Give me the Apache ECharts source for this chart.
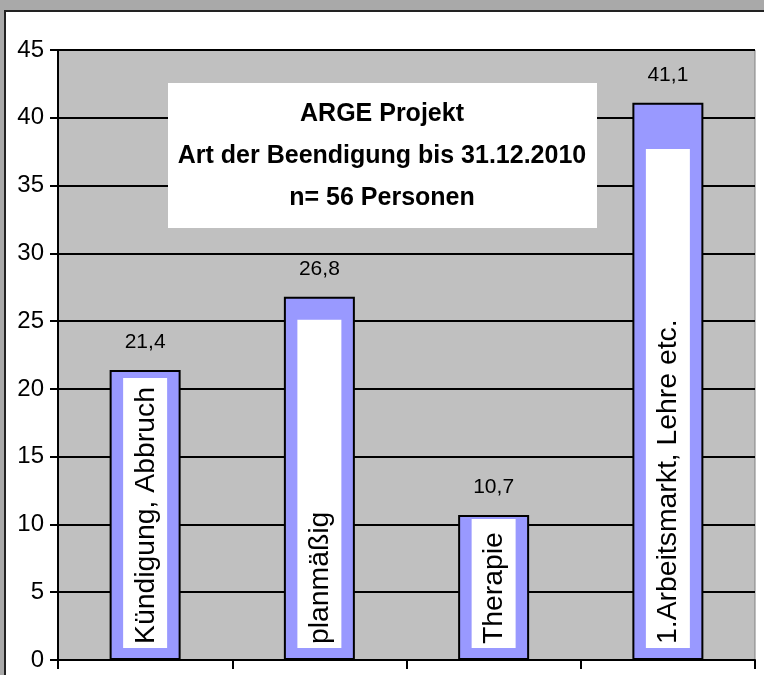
<!DOCTYPE html>
<html>
<head>
<meta charset="utf-8">
<script src="https://cdn.jsdelivr.net/npm/echarts@6/dist/echarts.min.js"></script>
<style>
  html, body { margin: 0; padding: 0; background: #fff; }
  #chart { width: 764px; height: 675px; }
</style>
</head>
<body>
<div id="chart"></div>
<script>
  // Werte aus dem Diagramm (Prozent)
  const categories = ['Kündigung, Abbruch', 'planmäßig', 'Therapie', '1.Arbeitsmarkt, Lehre etc.'];
  const values = [21.4, 26.8, 10.7, 41.1];
  // Oberkante der weissen Beschriftungsfelder in den Balken
  const labelBoxTops = [20.8, 25.1, 10.4, 37.7];
  const yMin = 0;
  const yMax = 45;
  const yStep = 5;
  const titleLines = ['ARGE Projekt', 'Art der Beendigung bis 31.12.2010', 'n= 56 Personen'];

  const chart = echarts.init(document.getElementById('chart'));

  const option = {
    animation: false,
    graphic: [
      // Fensterrahmen oben / links
      { type: 'rect', z: 100, shape: { x: 0, y: 0, width: 764, height: 10 }, style: { fill: '#a9a9a9' } },
      { type: 'rect', z: 100, shape: { x: 0, y: 0, width: 4, height: 675 }, style: { fill: '#a9a9a9' } },
      { type: 'line', z: 100, shape: { x1: 4, y1: 11, x2: 764, y2: 11 }, style: { stroke: '#222', lineWidth: 2 } },
      { type: 'line', z: 100, shape: { x1: 5, y1: 10, x2: 5, y2: 675 }, style: { stroke: '#222', lineWidth: 2 } },
      // Titelkasten
      { type: 'rect', z: 100, shape: { x: 168, y: 83, width: 429, height: 145 }, style: { fill: '#fff' } },
      {
        type: 'text',
        z: 101,
        x: 382,
        y: 93,
        style: {
          text: titleLines.join('\n'),
          align: 'center',
          verticalAlign: 'top',
          lineHeight: 42,
          font: 'bold 25px "Liberation Sans", Arial, sans-serif',
          fill: '#000'
        }
      }
    ],
    grid: {
      left: 58,
      right: 9,
      top: 50,
      bottom: 15,
      show: true,
      backgroundColor: '#c0c0c0',
      borderColor: '#808080',
      borderWidth: 1
    },
    xAxis: {
      type: 'category',
      data: categories,
      axisLabel: { show: false },
      axisTick: { show: true, interval: 0, length: 9, lineStyle: { color: '#000', width: 2 } },
      axisLine: { lineStyle: { color: '#000', width: 2 } }
    },
    yAxis: {
      type: 'value',
      min: yMin,
      max: yMax,
      interval: yStep,
      axisLine: { show: true, lineStyle: { color: '#000', width: 2 } },
      axisTick: { show: true, length: 8, lineStyle: { color: '#000', width: 2 } },
      axisLabel: {
        color: '#000',
        fontSize: 24,
        margin: 14,
        fontFamily: '"Liberation Sans", Arial, sans-serif'
      },
      splitLine: { show: true, lineStyle: { color: '#000', width: 2 } }
    },
    series: [
      {
        type: 'bar',
        data: values,
        barWidth: 71,
        itemStyle: { color: '#9999ff', borderColor: '#000', borderWidth: 2 },
        label: {
          show: true,
          position: 'top',
          distance: 17,
          color: '#000',
          fontSize: 21,
          fontFamily: '"Liberation Sans", Arial, sans-serif',
          formatter: function(p) {
            return String(p.value).replace('.', ',');
          }
        }
      },
      {
        type: 'custom',
        z: 3,
        data: labelBoxTops.map(function(v, i) { return [i, v]; }),
        renderItem: function(params, api) {
          const idx = api.value(0);
          const top = api.coord([idx, api.value(1)]);
          const base = api.coord([idx, 0]);
          const w = 44;
          const bottom = base[1] - 12;
          return {
            type: 'group',
            children: [
              {
                type: 'rect',
                shape: { x: top[0] - w / 2, y: top[1], width: w, height: bottom - top[1] },
                style: { fill: '#fff' }
              },
              {
                type: 'text',
                x: top[0] + 1,
                y: bottom - 4,
                rotation: Math.PI / 2,
                scaleX: 1.05,
                style: {
                  text: categories[idx],
                  font: '27px "Liberation Sans", Arial, sans-serif',
                  fill: '#000',
                  align: 'left',
                  verticalAlign: 'middle'
                }
              }
            ]
          };
        }
      }
    ]
  };

  chart.setOption(option);
</script>
</body>
</html>
